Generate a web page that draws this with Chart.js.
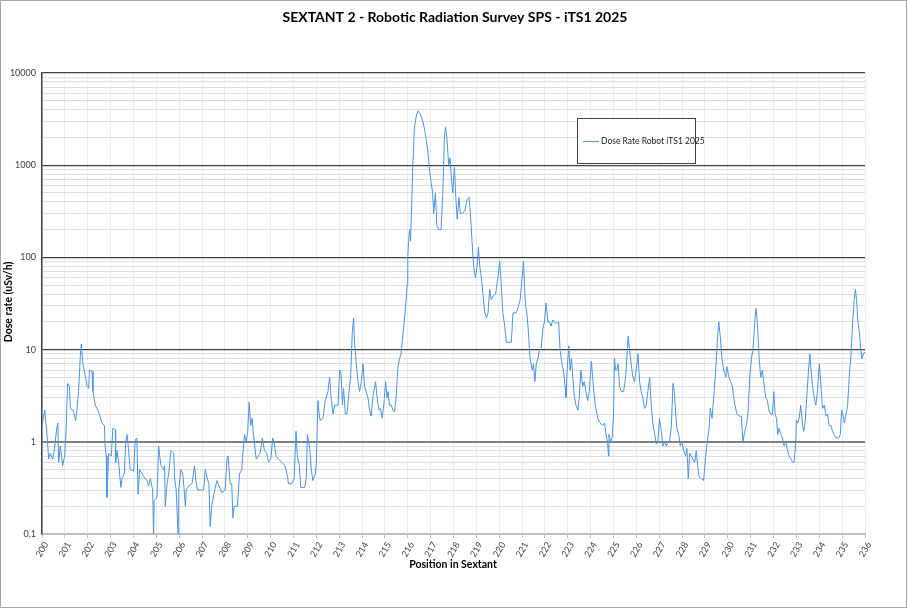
<!DOCTYPE html>
<html>
<head>
<meta charset="utf-8">
<script src="https://cdn.jsdelivr.net/npm/chart.js@4.4.1/dist/chart.umd.min.js"></script>
<style>
  html, body { margin: 0; padding: 0; background: #fff; }
  #wrap { width: 908px; height: 609px; }
</style>
</head>
<body>
<div id="wrap"><canvas id="chart" width="908" height="609"></canvas></div>
<script>
const chartTitle = "SEXTANT 2 - Robotic Radiation Survey SPS - iTS1 2025";
const seriesName = "Dose Rate Robot iTS1 2025";
const xTitle = "Position in Sextant";
const yTitle = "Dose rate (uSv/h)";

// x tick labels (positions in sextant)
const xTicks = [];
for (let i = 200; i <= 236; i++) xTicks.push(i);

// y axis: decades that carry a label
const yDecades = [0.1, 1, 10, 100, 1000, 10000];
const yTickLabels = ["0,1", "1", "10", "100", "1000", "10000"];

// positions
const positions = [
  200.0, 200.12, 200.22, 200.29, 200.36, 200.47, 200.55, 200.63, 200.69, 200.73,
  200.8, 200.9, 200.99, 201.05, 201.12, 201.2, 201.24, 201.36, 201.41, 201.47,
  201.53, 201.6, 201.68, 201.72, 201.79, 201.9, 201.97, 202.04, 202.08, 202.19,
  202.23, 202.33, 202.48, 202.62, 202.73, 202.76, 202.81, 202.84, 202.92, 203.03,
  203.1, 203.21, 203.22, 203.28, 203.35, 203.45, 203.5, 203.6, 203.66, 203.72,
  203.79, 203.86, 204.01, 204.08, 204.15, 204.2, 204.27, 204.45, 204.59, 204.66,
  204.74, 204.84, 204.88, 204.91, 205.03, 205.1, 205.2, 205.32, 205.36, 205.39,
  205.47, 205.54, 205.64, 205.76, 205.8, 205.87, 205.95, 205.98, 206.08, 206.16,
  206.22, 206.27, 206.31, 206.41, 206.56, 206.67, 206.73, 206.8, 206.92, 207.07,
  207.14, 207.21, 207.3, 207.36, 207.42, 207.53, 207.65, 207.72, 207.87, 208.01,
  208.09, 208.14, 208.23, 208.3, 208.35, 208.41, 208.55, 208.64, 208.74, 208.81,
  208.86, 208.93, 209.0, 209.06, 209.13, 209.19, 209.25, 209.37, 209.54, 209.64,
  209.73, 209.83, 209.91, 210.01, 210.09, 210.15, 210.24, 210.34, 210.49, 210.63,
  210.74, 210.78, 210.92, 211.03, 211.11, 211.17, 211.26, 211.32, 211.49, 211.56,
  211.61, 211.71, 211.78, 211.85, 211.96, 212.0, 212.07, 212.12, 212.17, 212.29,
  212.39, 212.51, 212.58, 212.66, 212.73, 212.8, 212.95, 213.02, 213.08, 213.14,
  213.19, 213.27, 213.34, 213.43, 213.5, 213.57, 213.63, 213.67, 213.75, 213.82,
  213.89, 213.97, 214.04, 214.11, 214.18, 214.26, 214.33, 214.4, 214.47, 214.59,
  214.66, 214.74, 214.81, 214.88, 214.95, 215.03, 215.09, 215.14, 215.2, 215.28,
  215.35, 215.42, 215.49, 215.57, 215.64, 215.71, 215.78, 215.86, 215.93, 215.97,
  216.0, 216.05, 216.08, 216.12, 216.16, 216.22, 216.29, 216.37, 216.45, 216.54,
  216.66, 216.77, 216.88, 216.95, 217.02, 217.09, 217.13, 217.21, 217.27, 217.36,
  217.46, 217.53, 217.6, 217.65, 217.71, 217.79, 217.85, 217.91, 217.97, 218.04,
  218.1, 218.16, 218.24, 218.3, 218.39, 218.49, 218.59, 218.68, 218.74, 218.81,
  218.88, 218.96, 219.03, 219.09, 219.15, 219.22, 219.29, 219.36, 219.44, 219.51,
  219.58, 219.65, 219.73, 219.84, 219.94, 220.02, 220.09, 220.16, 220.24, 220.31,
  220.42, 220.53, 220.6, 220.67, 220.74, 220.85, 220.92, 221.06, 221.15, 221.21,
  221.28, 221.35, 221.44, 221.5, 221.56, 221.62, 221.69, 221.76, 221.83, 221.91,
  221.98, 222.05, 222.13, 222.2, 222.27, 222.34, 222.42, 222.49, 222.6, 222.66,
  222.74, 222.81, 222.88, 222.92, 222.97, 223.04, 223.1, 223.16, 223.22, 223.29,
  223.36, 223.44, 223.5, 223.57, 223.65, 223.72, 223.79, 223.87, 223.94, 224.03,
  224.12, 224.2, 224.31, 224.41, 224.52, 224.61, 224.67, 224.74, 224.78, 224.8,
  224.87, 224.94, 225.0, 225.04, 225.09, 225.15, 225.2, 225.26, 225.34, 225.44,
  225.53, 225.58, 225.64, 225.7, 225.77, 225.85, 225.92, 225.99, 226.07, 226.14,
  226.21, 226.28, 226.36, 226.43, 226.5, 226.58, 226.65, 226.72, 226.8, 226.87,
  226.94, 227.01, 227.09, 227.16, 227.23, 227.31, 227.38, 227.45, 227.53, 227.6,
  227.66, 227.72, 227.77, 227.85, 227.92, 227.99, 228.07, 228.15, 228.21, 228.27,
  228.33, 228.4, 228.47, 228.55, 228.62, 228.68, 228.74, 228.84, 228.94, 229.03,
  229.1, 229.18, 229.23, 229.31, 229.38, 229.47, 229.54, 229.6, 229.67, 229.74,
  229.82, 229.91, 229.96, 230.05, 230.12, 230.2, 230.26, 230.31, 230.4, 230.49,
  230.59, 230.66, 230.74, 230.81, 230.88, 230.96, 231.03, 231.1, 231.18, 231.23,
  231.29, 231.37, 231.44, 231.51, 231.57, 231.66, 231.73, 231.8, 231.88, 231.95,
  232.01, 232.07, 232.13, 232.18, 232.24, 232.32, 232.39, 232.46, 232.54, 232.61,
  232.68, 232.76, 232.83, 232.9, 232.97, 233.0, 233.06, 233.12, 233.19, 233.27,
  233.32, 233.38, 233.45, 233.53, 233.59, 233.65, 233.71, 233.78, 233.85, 233.92,
  234.0, 234.06, 234.14, 234.22, 234.29, 234.36, 234.43, 234.51, 234.58, 234.65,
  234.73, 234.85, 234.92, 234.98, 235.03, 235.1, 235.17, 235.24, 235.31, 235.39,
  235.46, 235.53, 235.58, 235.63, 235.69, 235.75, 235.81, 235.87, 235.93, 236.0
];

// dose rate (uSv/h) at each position
const doseRate = [
  1.5, 2.2, 1.2, 0.65, 0.75, 0.65, 0.85, 1.3, 1.6, 0.6,
  0.9, 0.55, 0.7, 1.3, 4.3, 4.0, 2.3, 2.2, 2.0, 1.7,
  2.2, 3.5, 9, 11.5, 7, 5, 4, 3.8, 6, 5.8,
  3.5, 2.5, 2.1, 1.6, 1.5, 0.9, 0.7, 0.25, 0.75, 0.7,
  1.4, 1.35, 0.6, 0.8, 0.6, 0.32, 0.4, 0.45, 1.0, 1.2,
  0.8, 0.5, 0.48, 1.05, 1.1, 0.27, 0.5, 0.42, 0.38, 0.33,
  0.4, 0.3, 0.1, 0.23, 0.25, 0.9, 0.55, 0.5, 0.55, 0.2,
  0.35, 0.45, 0.8, 0.75, 0.4, 0.3, 0.1, 0.3, 0.5, 0.45,
  0.3, 0.2, 0.3, 0.33, 0.35, 0.55, 0.38, 0.3, 0.3, 0.3,
  0.5, 0.42, 0.35, 0.12, 0.2, 0.28, 0.38, 0.34, 0.28, 0.3,
  0.65, 0.7, 0.35, 0.35, 0.15, 0.2, 0.2, 0.45, 0.5, 0.9,
  1.2, 1.0, 1.3, 2.7, 1.5, 1.8, 1.2, 0.65, 0.75, 1.1,
  0.8, 0.75, 0.6, 0.65, 1.1, 1.0, 0.7, 0.65, 0.6, 0.55,
  0.42, 0.35, 0.35, 0.4, 1.3, 0.7, 0.55, 0.32, 0.32, 0.4,
  1.2, 0.85, 0.5, 0.38, 0.45, 0.6, 2.8, 2.0, 1.7, 1.8,
  2.8, 3.5, 5, 2.8, 2.0, 2.5, 2.5, 6, 5.5, 2.5,
  3.8, 2.0, 2.0, 3.5, 5, 15, 22, 12, 7, 4.5,
  3.5, 4.5, 7, 4, 3.5, 3.0, 2.2, 1.9, 3.0, 4.5,
  3.0, 2.2, 2.3, 1.8, 2.5, 4.5, 3.0, 3.5, 2.5, 2.5,
  2.2, 2.1, 3.0, 6.5, 8, 9, 14, 22, 35, 50,
  100, 170, 200, 150, 300, 1000, 2500, 3400, 3900, 3600,
  3000, 2200, 1400, 900, 650, 500, 300, 500, 220, 200,
  200, 500, 2000, 2600, 2000, 1000, 1200, 700, 500, 950,
  450, 260, 450, 300, 300, 320, 420, 450, 300, 150,
  80, 60, 80, 130, 80, 60, 40, 26, 22, 25,
  45, 35, 38, 40, 60, 90, 50, 25, 18, 12,
  12, 12, 25, 25, 25, 30, 35, 90, 30, 25,
  15, 8, 6, 7, 4.5, 7, 8, 10, 10, 17,
  20, 32, 20, 20, 18, 21, 20, 19, 20, 10,
  7, 6, 4, 3, 6, 11, 6, 8, 5, 3,
  2.5, 2.2, 3.0, 6, 4, 4.5, 3.5, 2.8, 3.5, 7.5,
  4, 2.5, 1.8, 1.6, 1.5, 1.6, 1.2, 1.0, 0.7, 1.2,
  1.0, 1.1, 2.0, 8, 6, 6, 7, 4, 3.5, 3.5,
  5, 8, 14, 10, 7, 5, 4.5, 6, 9, 4.5,
  3.5, 3.0, 2.3, 2.5, 3.5, 5, 2.5, 1.6, 1.2, 0.95,
  1.0, 1.8, 1.3, 0.9, 1.0, 0.9, 1.0, 1.0, 1.5, 4.3,
  3.5, 2.0, 1.4, 1.2, 0.9, 1.0, 0.8, 0.7, 0.85, 0.4,
  0.75, 0.7, 0.65, 0.6, 0.8, 0.55, 0.42, 0.4, 0.38, 0.7,
  1.0, 1.4, 2.3, 1.8, 3, 6, 12, 20, 14, 8,
  6, 5, 6.5, 5, 4.5, 4, 3, 2.5, 2.0, 1.9,
  1.9, 1.0, 1.3, 1.5, 2.0, 5, 8, 10, 20, 28,
  20, 8, 5, 6, 4.5, 3.0, 2.8, 2.2, 2.0, 2.0,
  3.5, 2.0, 1.8, 1.2, 1.4, 1.2, 1.1, 0.9, 1.0, 0.8,
  0.7, 0.65, 0.6, 0.6, 1.0, 1.7, 1.6, 1.8, 2.5, 1.5,
  1.3, 1.6, 3, 6, 9, 5.5, 4, 3.0, 2.5, 3.5,
  7, 4.5, 2.3, 2.5, 1.9, 2.0, 1.5, 1.5, 1.3, 1.2,
  1.1, 1.1, 1.2, 2.2, 2.0, 1.6, 2.0, 2.5, 5, 9,
  20, 35, 45, 35, 20, 16, 10, 8, 9, 9.5
];

const points = positions.map((p, i) => ({ x: p, y: doseRate[i] }));

// all gridline values 0.1..10000 (1..9 per decade)
const yGrid = [];
for (let d = 0; d < yDecades.length - 1; d++) {
  for (let m = 1; m <= 9; m++) yGrid.push(+(yDecades[d] * m).toPrecision(3));
}
yGrid.push(10000);

function isDecade(v) {
  return yDecades.some(d => Math.abs(d - v) < 1e-9);
}

const font = "'Lato', sans-serif";

const extras = {
  id: "extras",
  afterDraw(chart) {
    const ctx = chart.ctx;
    ctx.save();
    // outer frame
    ctx.strokeStyle = "#a6a6a6";
    ctx.lineWidth = 1;
    ctx.strokeRect(0.5, 0.5, 906, 607);

    ctx.fillStyle = "#000";
    ctx.textAlign = "center";
    ctx.textBaseline = "middle";
    ctx.font = "bold 14px " + font;
    ctx.fillText(chartTitle, 455, 17);

    ctx.font = "bold 10.5px " + font;
    ctx.fillText(xTitle, 453, 565);
    ctx.save();
    ctx.translate(9, 302);
    ctx.rotate(-Math.PI / 2);
    ctx.fillText(yTitle, 0, 0);
    ctx.restore();

    // legend box
    ctx.fillStyle = "#fff";
    ctx.fillRect(577, 118, 118, 45);
    ctx.strokeStyle = "#404040";
    ctx.strokeRect(577.5, 118.5, 118, 45);
    ctx.strokeStyle = "#5b9bd5";
    ctx.beginPath();
    ctx.moveTo(583, 141.5);
    ctx.lineTo(599, 141.5);
    ctx.stroke();
    ctx.fillStyle = "#222";
    ctx.textAlign = "left";
    ctx.font = "8.5px " + font;
    ctx.fillText(seriesName, 601, 141);
    ctx.restore();
  }
};

new Chart(document.getElementById("chart"), {
  type: "line",
  data: {
    datasets: [{
      label: seriesName,
      data: points,
      borderColor: "#4a94e3",
      borderWidth: 1,
      pointRadius: 0,
      tension: 0,
      fill: false
    }]
  },
  options: {
    responsive: false,
    animation: false,
    layout: { padding: { top: 73, left: 0, right: 43, bottom: 0 } },
    plugins: {
      legend: { display: false },
      title: { display: false },
      tooltip: { enabled: false }
    },
    scales: {
      x: {
        type: "linear",
        min: 200,
        max: 236,
        afterFit: s => { s.height = 75; },
        afterBuildTicks: s => { s.ticks = xTicks.map(v => ({ value: v })); },
        ticks: {
          autoSkip: false,
          minRotation: 60,
          maxRotation: 60,
          labelOffset: 4,
          padding: 2,
          color: "#404040",
          font: { family: font, size: 9 },
          callback: v => String(v)
        },
        grid: {
          color: "#ededed",
          tickColor: "#bfbfbf",
          tickLength: 4
        },
        border: { color: "#bfbfbf", width: 2 }
      },
      y: {
        type: "logarithmic",
        min: 0.1,
        max: 10000,
        afterFit: s => { s.width = 42; },
        afterBuildTicks: s => { s.ticks = yGrid.map(v => ({ value: v })); },
        ticks: {
          autoSkip: false,
          padding: 6,
          color: "#404040",
          font: { family: font, size: 9 },
          callback: v => {
            const i = yDecades.findIndex(d => Math.abs(d - v) < 1e-9);
            return i >= 0 ? yTickLabels[i] : "";
          }
        },
        grid: {
          drawTicks: false,
          color: c => {
            const v = c.tick.value;
            if (Math.abs(v - 1) < 1e-9) return "#808080";
            return isDecade(v) ? "#404040" : "#dedede";
          },
          lineWidth: c => {
            const v = c.tick.value;
            if (Math.abs(v - 1) < 1e-9) return 2;
            return isDecade(v) ? 1.3 : 1;
          }
        },
        border: { color: "#404040", width: 1.5 }
      }
    }
  },
  plugins: [extras]
});
</script>
</body>
</html>
